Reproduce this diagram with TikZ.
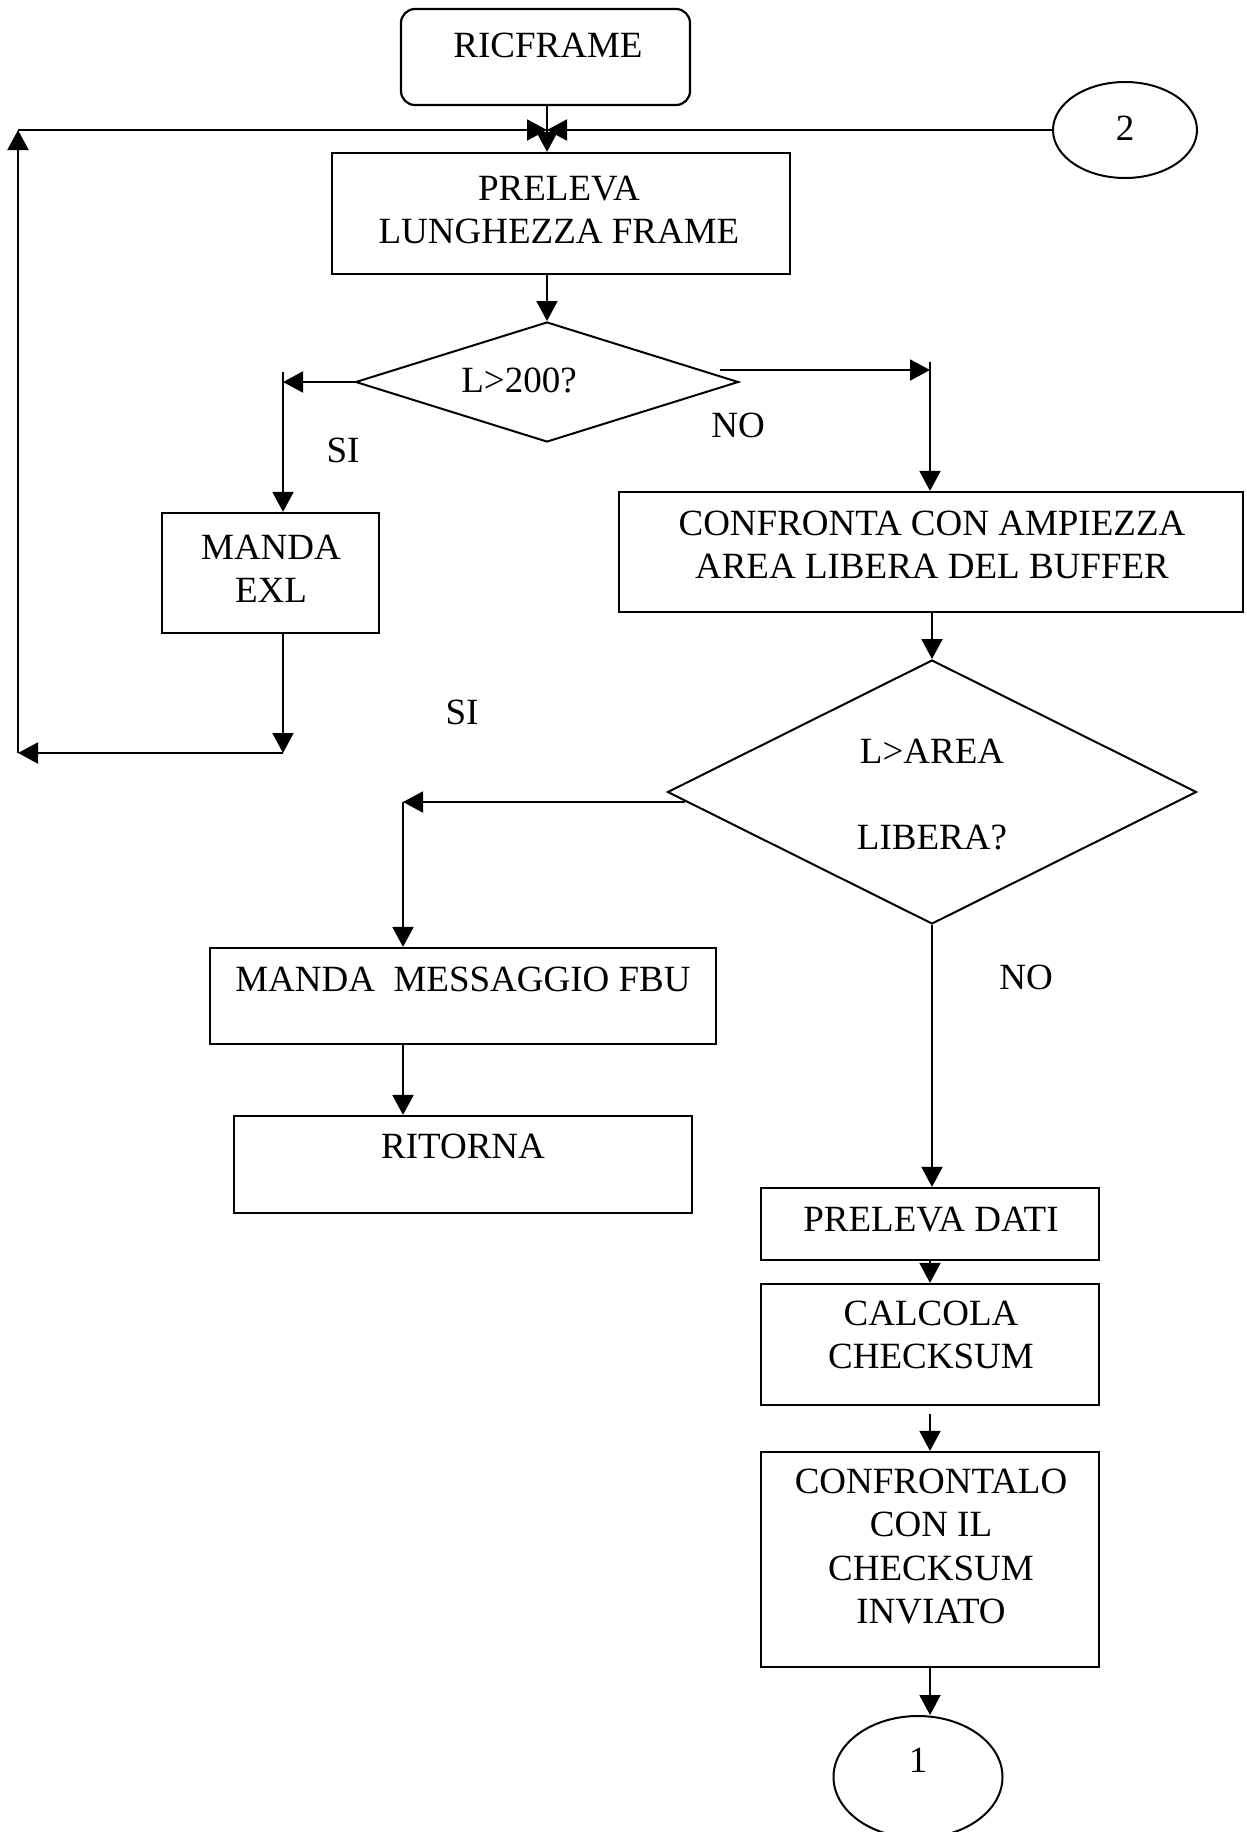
\documentclass[tikz,border=0pt]{standalone}
\usepackage{fontspec}
\setmainfont{Liberation Serif}
\usetikzlibrary{arrows.meta,shapes.geometric}

\begin{document}
\begin{tikzpicture}[x=0.5pt,y=-0.5pt,
  box/.style={draw,line width=1.1pt,rectangle,inner sep=0pt},
  txt/.style={inner sep=0pt,align=center,font=\fontsize{18.5}{21.5}\selectfont},
  dec/.style={draw,line width=1pt,diamond,inner sep=0pt},
  conn/.style={ellipse,draw,line width=1pt,inner sep=0pt},
  arr/.style={line width=1pt,-{Triangle[length=10pt,width=10.5pt]}}]
\useasboundingbox (0,0) rectangle (1247,1832);

% start block and top connector
\node[box,rounded corners=7pt,minimum width=144.5pt,minimum height=48pt] (ricframe) at (545.5,57) {};
\node[txt] (tricframe) at (548,45) {RICFRAME};
\node[conn,minimum width=72pt,minimum height=48pt] (c2) at (1125,130) {};
\node[txt] (t2) at (1125,128) {2};
\coordinate (J) at (547,130);

% frame length
\node[box,minimum width=229pt,minimum height=60.5pt] (preleva) at (561,213.5) {};
\node[txt] (tpreleva) at (559,210) {PRELEVA\\LUNGHEZZA FRAME};
\draw[arr] (ricframe.south -| J) -- (preleva.north -| J);
\draw[arr] (c2.west) -- (J);

% first decision
\node[dec,minimum width=191.5pt,minimum height=60pt] (d1) at (547,382) {};
\node[txt] (td1) at (519,380) {L>200?};
\draw[arr] (preleva.south -| J) -- (d1.north -| J);

% yes branch: send EXL and loop back
\coordinate (d1l) at (283,382);
\coordinate (d1lt) at (283,372);
\draw[arr] (d1.west) -- (d1l);
\node[txt] (si1) at (343,450) {SI};
\node[box,minimum width=108.5pt,minimum height=60pt] (exl) at (270.5,573) {};
\node[txt] (texl) at (271,569) {MANDA\\EXL};
\draw[arr] (d1lt) -- (d1lt |- exl.north);
\coordinate (lb) at (283,753);
\coordinate (ll) at (18,753);
\coordinate (lt) at (18,130);
\draw[arr] (d1lt |- exl.south) -- (lb);
\draw[arr] (lb) -- (ll);
\draw[arr] (ll) -- (lt);
\draw[arr] (lt) -- (J);

% no branch: compare with free buffer area
\coordinate (d1r) at ([shift={(-20,-12)}]d1.east);
\coordinate (d1rc) at (930,370);
\coordinate (d1rt) at (930,362);
\draw[arr] (d1r) -- (d1rc);
\node[txt] (no1) at (738,425) {NO};
\node[box,minimum width=312pt,minimum height=60pt] (confr) at (931,552) {};
\node[txt] (tconfr) at (932,545) {CONFRONTA CON AMPIEZZA\\AREA LIBERA DEL BUFFER};
\draw[arr] (d1rt) -- (d1rt |- confr.north);

% second decision
\node[dec,minimum width=264.5pt,minimum height=132pt] (d2) at (932,792) {};
\node[txt] (td2a) at (932,751) {L>AREA};
\node[txt] (td2b) at (932,838) {LIBERA?};
\draw[arr] (d2.north |- confr.south) -- (d2.north);

% yes branch: buffer full
\coordinate (d2l) at ([shift={(18,10)}]d2.west);
\coordinate (d2lc) at (403,802);
\draw[arr] (d2l) -- (d2lc);
\node[txt] (si2) at (462,712) {SI};
\node[box,minimum width=253pt,minimum height=48pt] (msg) at (463,996) {};
\node[txt] (tmsg) at (463,979) {MANDA\ \ MESSAGGIO FBU};
\draw[arr] (d2lc) -- (d2lc |- msg.north);
\node[box,minimum width=229pt,minimum height=48.5pt] (ritorna) at (463,1164.5) {};
\node[txt] (tritorna) at (463,1146) {RITORNA};
\draw[arr] (d2lc |- msg.south) -- (d2lc |- ritorna.north);

% no branch: read data and check
\node[txt] (no2) at (1026,977) {NO};
\node[box,minimum width=169pt,minimum height=36pt] (dati) at (930,1224) {};
\node[txt] (tdati) at (931,1220) {PRELEVA DATI};
\draw[arr] (d2.south) -- (d2.south |- dati.north);
\node[box,minimum width=169pt,minimum height=60.5pt] (calc) at (930,1344.5) {};
\node[txt] (tcalc) at (931,1335) {CALCOLA\\CHECKSUM};
\draw[arr] (dati.south) -- (calc.north);
\coordinate (calcgap) at (930,1414);
\node[box,minimum width=169pt,minimum height=107.5pt] (conf2) at (930,1559.5) {};
\node[txt,font=\fontsize{18.5}{21.8}\selectfont] (tconf2) at (931,1546.5) {CONFRONTALO\\CON IL\\CHECKSUM\\INVIATO};
\draw[arr] (calcgap) -- (conf2.north);
\node[conn,minimum width=84.5pt,minimum height=61pt] (c1) at (918,1777) {};
\node[txt] (t1) at (918,1760) {1};
\draw[arr] (conf2.south) -- (conf2.south |- c1.north);
\end{tikzpicture}
\end{document}
